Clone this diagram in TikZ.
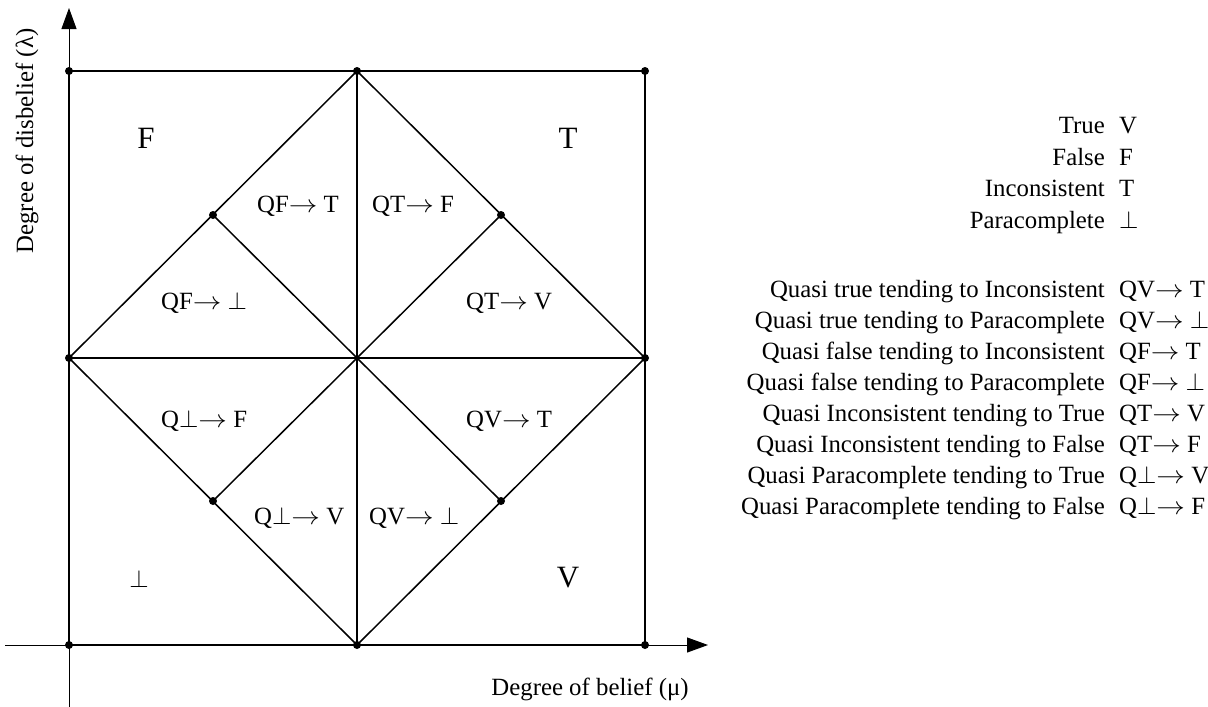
\documentclass[tikz,border=0pt]{standalone}
\usepackage{fontspec}
\setmainfont{Liberation Serif}
\usepackage{graphicx}
\usetikzlibrary{positioning,arrows.meta}
\newcommand{\qto}{\scalebox{1.15}[1]{$\rightarrow$}\ }

\begin{document}
\begin{tikzpicture}[x=1pt, y=-1pt,
    >={Triangle[length=21pt,width=15pt]},
    axis/.style={line width=1pt},
    grid line/.style={line width=1.5pt},
    dot/.style={circle, fill, inner sep=0pt, minimum size=8pt},
    region/.style={font=\fontsize{31}{34}\selectfont, inner sep=0pt, anchor=base},
    zone/.style={font=\fontsize{24.8}{30}\selectfont, inner sep=0pt, anchor=base west},
    legend/.style={font=\fontsize{24.8}{30}\selectfont, inner sep=0pt, anchor=base east},
    sym/.style={font=\fontsize{24.8}{30}\selectfont, inner sep=0pt, anchor=base west}]
  \useasboundingbox (0,0) rectangle (1208,707);
  % square, diamond and axes
  \coordinate (o)  at (69,645);
  \coordinate (mb) at (357,645);
  \coordinate (rb) at (645,645);
  \coordinate (lm) at (69,358);
  \coordinate (c)  at (357,358);
  \coordinate (rm) at (645,358);
  \coordinate (lt) at (69,71);
  \coordinate (mt) at (357,71);
  \coordinate (rt) at (645,71);
  \coordinate (ul) at (213,215);
  \coordinate (ur) at (501,215);
  \coordinate (ll) at (213,501);
  \coordinate (lr) at (501,501);
  \coordinate (xs) at (5,645);
  \coordinate (xe) at (708,645);
  \coordinate (ys) at (69,707);
  \coordinate (ye) at (69,8);
  \draw[axis, ->] (xs) -- (xe);
  \draw[axis, ->] (ys) -- (ye);
  \draw[grid line] (o) rectangle (rt);
  \draw[grid line] (mt) -- (rm) -- (mb) -- (lm) -- cycle;
  \draw[grid line] (mt) -- (mb);
  \draw[grid line] (lm) -- (rm);
  \draw[grid line] (ul) -- (lr);
  \draw[grid line] (ur) -- (ll);
  \foreach \p in {o,mb,rb,lm,rm,lt,mt,rt,ul,ur,ll,lr}
    \node[dot] (d-\p) at (\p) {};
  % axis labels
  \node[legend, rotate=90, anchor=base] (ylab) at (33,141) {Degree of disbelief (λ)};
  \node[legend, anchor=base] (xlab) at (590,695) {Degree of belief (μ)};
  % regions
  \node[region] (rf) at (146,148) {F};
  \node[region] (rtl) at (568,148) {T};
  \node[region] (rp) at (139,587) {$\bot$};
  \node[region] (rv) at (568,587) {V};
  \node[zone] (qft) at (257,212) {QF\qto T};
  \node[zone] (qtf) at (372,212) {QT\qto F};
  \node[zone] (qfp) at (161,309) {QF\qto $\bot$};
  \node[zone] (qtv) at (466,309) {QT\qto V};
  \node[zone] (qpf) at (161,427) {Q$\bot$\qto F};
  \node[zone] (qvt) at (466,427) {QV\qto T};
  \node[zone] (qpv) at (254,524) {Q$\bot$\qto V};
  \node[zone] (qvp) at (369,524) {QV\qto $\bot$};
  % legend
  \foreach \txt/\sym [count=\i] in {True/V, False/F, Inconsistent/T, Paracomplete/$\bot$}
  {
    \node[legend] (key\i) at (1105,{102+31.5*\i}) {\txt};
    \node[sym] (val\i) at ([xshift=14pt]key\i.base east) {\sym};
  }
  \foreach \txt/\sym [count=\i] in {
      Quasi true tending to Inconsistent/QV\qto T,
      Quasi true tending to Paracomplete/QV\qto $\bot$,
      Quasi false tending to Inconsistent/QF\qto T,
      Quasi false tending to Paracomplete/QF\qto $\bot$,
      Quasi Inconsistent tending to True/QT\qto V,
      Quasi Inconsistent tending to False/QT\qto F,
      Quasi Paracomplete tending to True/Q$\bot$\qto V,
      Quasi Paracomplete tending to False/Q$\bot$\qto F}
  {
    \node[legend] (qkey\i) at (1105,{266+31*\i}) {\txt};
    \node[sym] (qval\i) at ([xshift=14pt]qkey\i.base east) {\sym};
  }
\end{tikzpicture}
\end{document}
